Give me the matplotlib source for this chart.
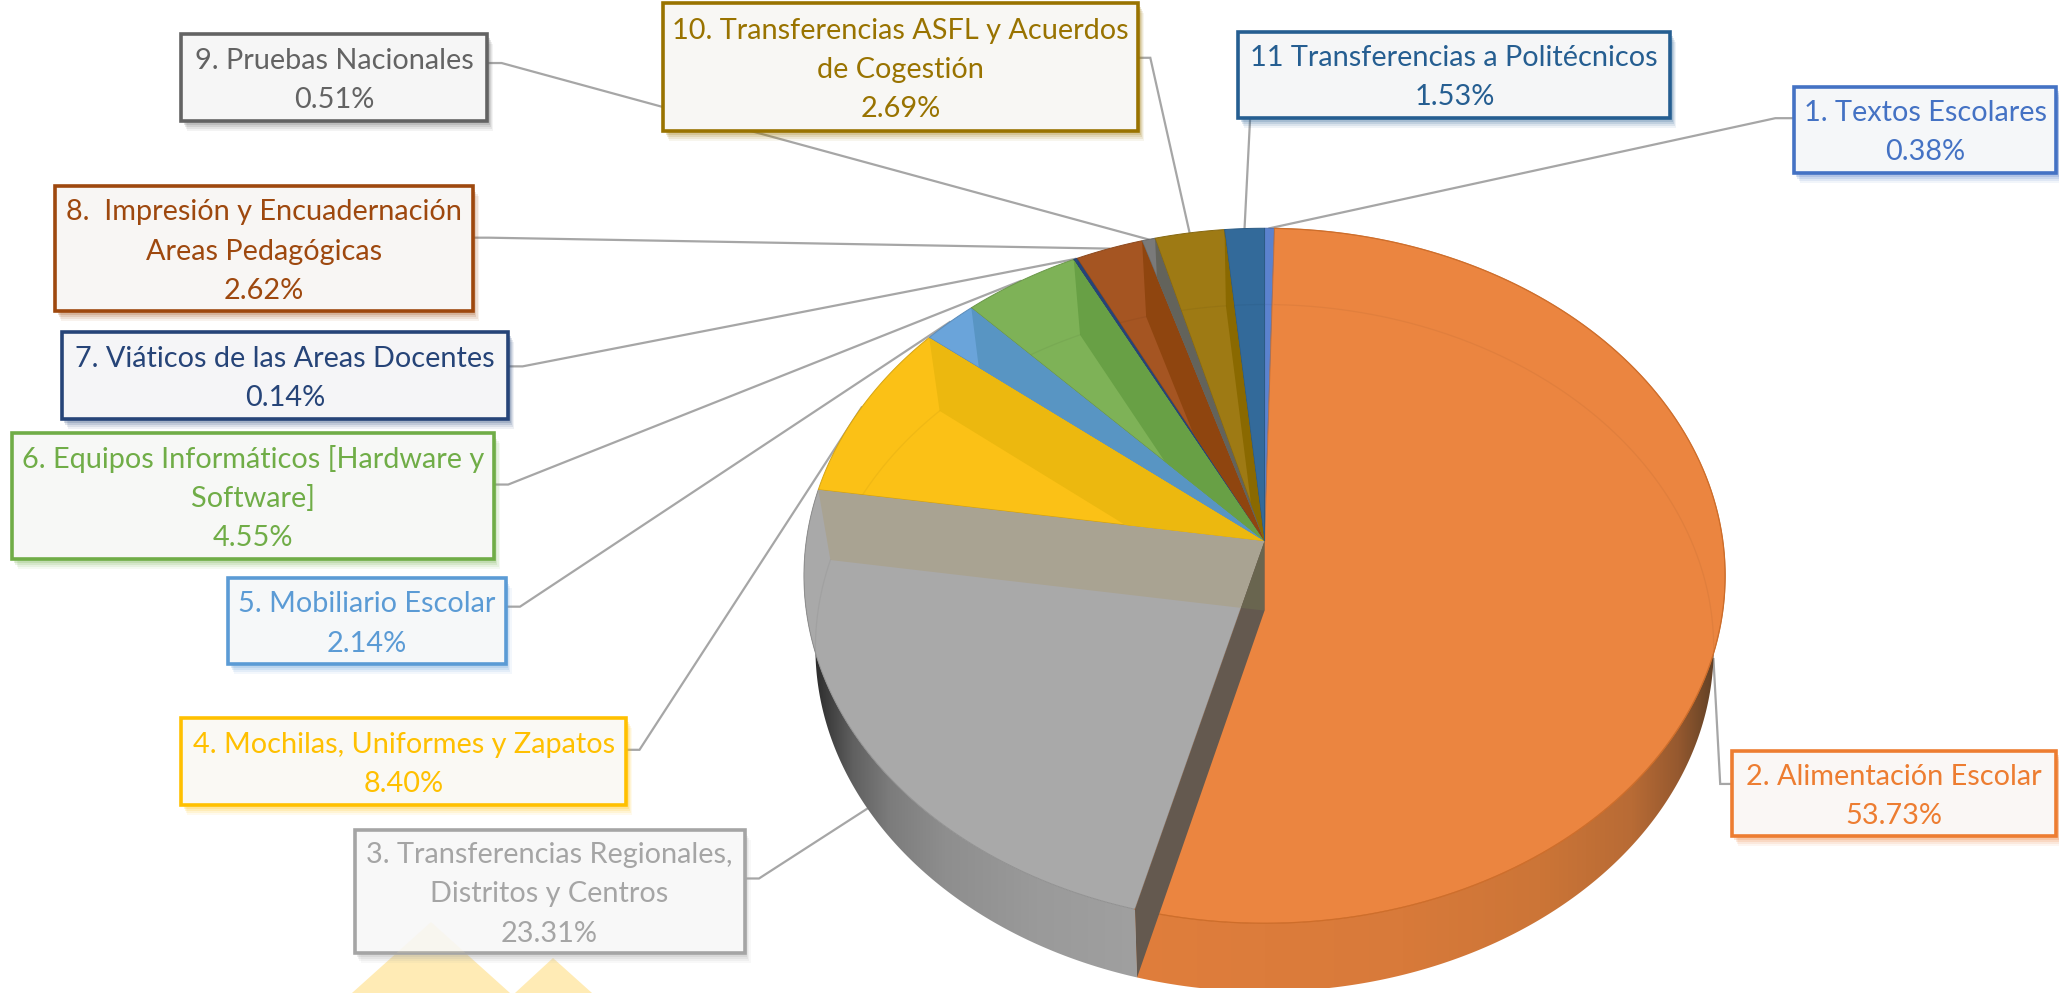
import numpy as np
import matplotlib
matplotlib.use("Agg")
import matplotlib.pyplot as plt
from matplotlib.patches import Polygon, Rectangle
from matplotlib.colors import to_rgb

# ---- data -------------------------------------------------------------
labels = ["1. Textos Escolares", "2. Alimentación Escolar",
          "3. Transferencias Regionales,\nDistritos y Centros",
          "4. Mochilas, Uniformes y Zapatos", "5. Mobiliario Escolar",
          "6. Equipos Informáticos [Hardware y\nSoftware]",
          "7. Viáticos de las Areas Docentes",
          "8.  Impresión y Encuadernación\nAreas Pedagógicas",
          "9. Pruebas Nacionales",
          "10. Transferencias ASFL y Acuerdos\nde Cogestión",
          "11 Transferencias a Politécnicos"]
values = [0.38, 53.73, 23.31, 8.40, 2.14, 4.55, 0.14, 2.62, 0.51, 2.69, 1.53]
edge_colors = ["#4472C4", "#ED7D31", "#A5A5A5", "#FFC000", "#5B9BD5", "#70AD47",
               "#264478", "#9E480E", "#636363", "#997300", "#255E91"]
face_colors = ["#5B82CE", "#EB8540", "#A9A9A9", "#FBC116", "#6AA4DA", "#7EB257",
               "#2A4A80", "#A55522", "#7A7A7A", "#9E7A14", "#336A9A"]
band_colors = ["#4F78C4", "#EB8540", "#A9A392", "#ECB80F", "#5895C3", "#68A045",
               "#264478", "#8F450F", "#63635B", "#8A6900", "#30658F"]

# ---- layout (positions given in the 1568-wide frame) -------------------
S = 2059 / 1568
box_xyxy = [(1366, 66, 1566, 132), (1319, 572, 1566, 637), (270, 632, 567, 726),
            (138, 547, 477, 613), (174, 440, 385, 506), (9, 330, 376, 426),
            (47, 253, 387, 319), (42, 142, 360, 237), (138, 26, 371, 92),
            (505, 2, 867, 100), (943, 24, 1272, 90)]
leader_start = [(1366, 90), (1319, 597), (567, 669), (477, 571), (385, 462), (376, 369),
                (387, 279), (360, 181), (371, 48), (867, 44), (952, 90)]
leader_elbow = [(1352, 90), (1310, 597), (578, 669), (487, 571), (396, 462), (387, 369),
                (398, 279), (372, 181), (382, 48), (876, 44), (952, 90)]
CX, CY = 963 * S, 412 * S       # apex of top face
RX, RY, K = 349 * S, 262 * S, 0.10
CYQ = 465 * S                   # apex of lower face
RXQ, RYQ, KQ = 340 * S, 258.5 * S, 0.109
FS = 20.8
LINE_H = 39.2
BASE_OFF = 10.8
FONT = "Lato"

fig = plt.figure(figsize=(20.59, 9.93), dpi=100, facecolor="white")
ax = fig.add_axes([0, 0, 1, 1])


def P(theta):
    u, v = np.sin(theta), -np.cos(theta)
    w = 1 - K * v
    return np.column_stack([CX + RX * u / w, CY + RY * v / w])


def Q(theta):
    u, v = np.sin(theta), -np.cos(theta)
    w = 1 - KQ * v
    return np.column_stack([CX + RXQ * u / w, CYQ + RYQ * v / w])


def mix(c1, c2, t):
    a, b = np.array(to_rgb(c1)), np.array(to_rgb(c2))
    return tuple(a + (b - a) * t)


cum = np.concatenate([[0], np.cumsum(values)]) / 100 * 2 * np.pi
apex = np.array([[CX, CY]])
apexq = np.array([[CX, CYQ]])

# watermark triangles
tri = [[(431, 922), (352, 993), (510, 993)], [(553, 958), (515, 993), (592, 993)]]
for t in tri:
    ax.add_patch(Polygon(t, closed=True, fc="#FFEBB5", ec="none", zorder=1))

# leader lines
for i in range(len(values)):
    mid = np.array([(cum[i] + cum[i + 1]) / 2])
    near = -np.cos(mid[0]) > 0.1
    end = (Q(mid) if near else P(mid))[0]
    s, e = np.array(leader_start[i]) * S, np.array(leader_elbow[i]) * S
    ax.plot([s[0], e[0], end[0]], [s[1], e[1], end[1]], color="#A6A6A6", lw=1.6,
            zorder=2, solid_joinstyle="miter")

# outer walls, near side: horizontal shading clipped to the wall outline
orange_sin = [-0.3, 0.3, 0.6, 0.8, 0.9, 0.96, 1.03]
orange_col = ["#E07E3C", "#D87A3A", "#CC7537", "#B86B35", "#96592F", "#6E4728", "#3A2A20"]
gray_sin = [-1.03, -0.96, -0.9, -0.82, -0.7, -0.5, -0.2]
gray_col = ["#111111", "#3A3A3A", "#606060", "#7C7C7C", "#8E8E8E", "#9A9A9A", "#A2A2A2"]
for idx, (sin_s, col_s) in {1: (orange_sin, orange_col), 2: (gray_sin, gray_col)}.items():
    th = np.linspace(max(cum[idx], np.pi / 4), min(cum[idx + 1], 1.75 * np.pi), 400)
    outline = Polygon(np.vstack([P(th), Q(th)[::-1]]), closed=True, transform=ax.transData)
    xs = np.linspace(CX - 1.03 * RX, CX + 1.03 * RX, 800)
    t = (xs - CX) / RX
    arr = np.array([to_rgb(c) for c in col_s])
    img = np.stack([np.interp(t, sin_s, arr[:, k]) for k in range(3)], axis=-1)[None, :, :]
    im = ax.imshow(img, extent=(xs[0], xs[-1], CY + 1.3 * RY, CY - 0.2 * RY), aspect="auto",
                   interpolation="bilinear", zorder=3)
    im.set_clip_path(outline)

# top faces, inner wall bands, lower rim seen through the faces
faces = []
for i in range(len(values)):
    th = np.linspace(cum[i], cum[i + 1], max(4, int(values[i] * 6)))
    face = Polygon(np.vstack([apex, P(th)]), closed=True, fc=face_colors[i],
                   ec=mix(face_colors[i], "#000000", 0.15), lw=0.7, zorder=4)
    ax.add_patch(face)
    faces.append(face)
    end = np.array([cum[i + 1]])
    band = Polygon(np.vstack([apex, P(end), Q(end), apexq]), closed=True,
                   fc=band_colors[i], ec="none", zorder=5)
    ax.add_patch(band)
    band.set_clip_path(face)
    rim = Q(th)
    line, = ax.plot(rim[:, 0], rim[:, 1], color=mix(face_colors[i], "#000000", 0.2),
                    lw=0.9, alpha=0.22, zorder=6)
    line.set_clip_path(face)

# end wall of the largest slice, over the neighbouring slice
end = np.array([cum[2]])
wall_pts = np.vstack([apex, P(end), Q(end), apexq])
ax.add_patch(Polygon(wall_pts, closed=True, fc="#64594F", ec="none", zorder=7))
tan_end = np.array([cum[3]])
tan_band = Polygon(np.vstack([apex, P(tan_end), Q(tan_end), apexq]), closed=True,
                   transform=ax.transData)
upper = Polygon(wall_pts, closed=True, fc="#69654F", ec="none", zorder=8)
ax.add_patch(upper)
upper.set_clip_path(tan_band)
rim_p = P(np.linspace(cum[1], cum[2], 300))
ax.plot(rim_p[:, 0], rim_p[:, 1], color="#D06C26", lw=0.9, alpha=0.8, zorder=4.5)

# label boxes
for i, (lab, val) in enumerate(zip(labels, values)):
    x0, y0, x1, y1 = np.array(box_xyxy[i]) * S
    col = edge_colors[i]
    for off, a in zip((10, 8, 6, 4), (0.07, 0.10, 0.14, 0.18)):
        ax.add_patch(Rectangle((x0 + off * 0.6, y0 + off), x1 - x0, y1 - y0, fc=col, ec="none",
                               alpha=a, zorder=10))
    ax.add_patch(Rectangle((x0, y0), x1 - x0, y1 - y0, fc=mix(col, "#FAFAFA", 0.975), ec=col,
                           lw=2.6, zorder=11, joinstyle="miter"))
    lines = lab.split("\n") + [f"{val:.2f}%"]
    yc = (y0 + y1) / 2
    for j, txt in enumerate(lines):
        ax.text((x0 + x1) / 2, yc + (j - (len(lines) - 1) / 2) * LINE_H + BASE_OFF, txt,
                color=col, fontsize=FS, family=FONT, ha="center", va="baseline", zorder=13)
    if i == 2:
        clip = Rectangle((x0, y0), x1 - x0, y1 - y0, transform=ax.transData)
        for t in tri:
            p = Polygon(t, closed=True, fc="#FFEBB5", ec="none", alpha=0.12, zorder=12)
            ax.add_patch(p)
            p.set_clip_path(clip)

ax.set_xlim(0, 2059)
ax.set_ylim(993, 0)
ax.axis("off")
fig.savefig("out.png", dpi=100, facecolor="white")
